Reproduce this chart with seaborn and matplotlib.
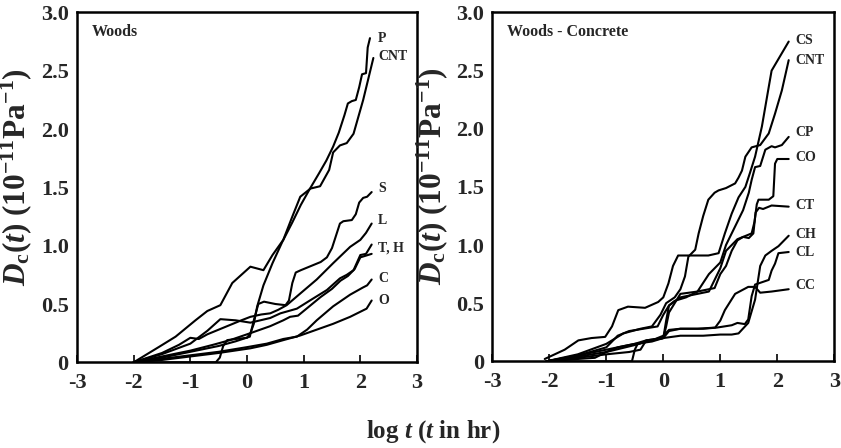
import matplotlib
matplotlib.use("Agg")
import matplotlib.pyplot as plt
import seaborn as sns
import pandas as pd

# ---------------- data (log t, Dc) ----------------
# Woods panel
P_x = [-2.0, -1.0, -0.55, -0.48, -0.42, -0.35, -0.2, 0.0, 0.06, 0.12, 0.18, 0.29, 0.45, 0.62, 0.8, 0.95, 1.1, 1.27, 1.4, 1.52, 1.62, 1.72, 1.78, 1.85, 1.92, 1.98, 2.03, 2.1, 2.13, 2.17]
P_y = [0, 0, 0, 0.04, 0.14, 0.19, 0.2, 0.21, 0.25, 0.33, 0.48, 0.66, 0.85, 1.03, 1.2, 1.35, 1.48, 1.62, 1.73, 1.85, 1.97, 2.12, 2.22, 2.24, 2.25, 2.36, 2.47, 2.48, 2.7, 2.78]
CNT_x = [-2.0, -1.56, -1.26, -0.91, -0.7, -0.47, -0.26, 0.06, 0.29, 0.45, 0.64, 0.8, 0.94, 1.12, 1.29, 1.45, 1.52, 1.64, 1.76, 1.88, 2.05, 2.23]
CNT_y = [0, 0.13, 0.22, 0.36, 0.44, 0.49, 0.68, 0.82, 0.79, 0.92, 1.05, 1.25, 1.42, 1.49, 1.51, 1.65, 1.8, 1.86, 1.88, 1.96, 2.25, 2.61]
S_x = [-2.0, -1.5, -1.0, -0.5, -0.2, 0.05, 0.12, 0.2, 0.3, 0.5, 0.68, 0.74, 0.8, 0.86, 0.95, 1.1, 1.3, 1.41, 1.5, 1.58, 1.64, 1.7, 1.85, 1.92, 1.98, 2.05, 2.12, 2.2]
S_y = [0, 0.04, 0.09, 0.14, 0.18, 0.22, 0.36, 0.5, 0.52, 0.5, 0.49, 0.53, 0.68, 0.77, 0.79, 0.82, 0.86, 0.9, 0.98, 1.1, 1.19, 1.21, 1.22, 1.27, 1.37, 1.41, 1.42, 1.46]
L_x = [-2.0, -1.5, -1.2, -1.0, -0.85, -0.7, -0.4, -0.1, 0.06, 0.25, 0.41, 0.55, 0.7, 0.94, 1.23, 1.52, 1.82, 2.0, 2.1, 2.2]
L_y = [0, 0.08, 0.15, 0.21, 0.2, 0.24, 0.3, 0.36, 0.39, 0.41, 0.42, 0.45, 0.49, 0.59, 0.71, 0.85, 0.99, 1.05, 1.11, 1.19]
T_x = [-2.0, -1.5, -1.0, -0.7, -0.47, -0.2, 0.06, 0.41, 0.59, 0.88, 1.11, 1.41, 1.64, 1.76, 1.88, 2.0, 2.1, 2.15, 2.2]
T_y = [0, 0.07, 0.16, 0.27, 0.37, 0.36, 0.34, 0.38, 0.42, 0.46, 0.53, 0.62, 0.72, 0.75, 0.79, 0.92, 0.93, 0.97, 1.01]
H_x = [-2.0, -1.5, -1.0, -0.6, -0.3, 0.06, 0.41, 0.64, 0.76, 0.9, 1.1, 1.3, 1.5, 1.65, 1.78, 1.9, 2.0, 2.2]
H_y = [0, 0.05, 0.1, 0.15, 0.19, 0.25, 0.31, 0.36, 0.39, 0.4, 0.48, 0.56, 0.63, 0.7, 0.74, 0.8, 0.9, 0.93]
C_x = [-2.0, -1.5, -1.0, -0.5, 0.0, 0.35, 0.64, 0.88, 1.06, 1.23, 1.52, 1.82, 2.04, 2.12, 2.2]
C_y = [0, 0.03, 0.06, 0.09, 0.13, 0.16, 0.2, 0.22, 0.28, 0.36, 0.48, 0.58, 0.64, 0.66, 0.71]
O_x = [-2.0, -1.5, -1.0, -0.5, 0.06, 0.35, 0.64, 0.94, 1.23, 1.52, 1.82, 2.11, 2.2]
O_y = [0, 0.02, 0.05, 0.08, 0.12, 0.15, 0.19, 0.23, 0.28, 0.33, 0.39, 0.46, 0.53]

# Woods - Concrete panel
CS_x = [-2.08, -1.73, -1.49, -1.26, -1.02, -0.9, -0.79, -0.62, -0.32, -0.09, 0.0, 0.09, 0.17, 0.26, 0.5, 0.79, 0.97, 1.08, 1.2, 1.32, 1.44, 1.52, 1.61, 1.73, 1.85, 1.9, 2.02, 2.2]
CS_y = [0.02, 0.1, 0.18, 0.2, 0.21, 0.3, 0.44, 0.47, 0.46, 0.51, 0.55, 0.67, 0.82, 0.91, 0.91, 0.91, 0.93, 1.1, 1.27, 1.41, 1.5, 1.62, 1.76, 2.02, 2.36, 2.5, 2.6, 2.75]
CNT2_x = [-2.05, -1.5, -1.0, -0.7, -0.4, -0.2, -0.05, 0.05, 0.2, 0.3, 0.38, 0.44, 0.56, 0.62, 0.7, 0.79, 0.9, 0.97, 1.1, 1.26, 1.32, 1.38, 1.44, 1.55, 1.7, 1.85, 1.96, 2.08, 2.2]
CNT2_y = [0, 0.06, 0.15, 0.24, 0.28, 0.3, 0.4, 0.5, 0.55, 0.62, 0.73, 0.9, 0.96, 1.1, 1.25, 1.39, 1.45, 1.47, 1.49, 1.53, 1.58, 1.64, 1.76, 1.84, 1.86, 1.96, 2.13, 2.33, 2.59]
CP_x = [-2.05, -1.5, -1.0, -0.8, -0.6, -0.35, -0.1, 0.0, 0.1, 0.2, 0.4, 0.6, 0.8, 0.9, 1.0, 1.1, 1.2, 1.3, 1.4, 1.5, 1.55, 1.61, 1.7, 1.79, 1.9, 1.96, 2.08, 2.2]
CP_y = [0, 0.05, 0.12, 0.22, 0.26, 0.28, 0.3, 0.4, 0.48, 0.52, 0.55, 0.6, 0.75, 0.8, 0.85, 1.0, 1.1, 1.2, 1.3, 1.45, 1.56, 1.67, 1.68, 1.82, 1.85, 1.84, 1.86, 1.93]
CO_x = [-2.05, -1.5, -1.0, -0.6, -0.55, -0.5, -0.45, -0.2, 0.0, 0.05, 0.1, 0.3, 0.6, 0.8, 0.9, 1.0, 1.1, 1.2, 1.3, 1.45, 1.55, 1.6, 1.64, 1.67, 1.85, 1.93, 1.96, 2.0, 2.2]
CO_y = [0, 0.0, 0.0, 0.0, 0.0, 0.1, 0.15, 0.18, 0.2, 0.35, 0.48, 0.55, 0.58, 0.6, 0.7, 0.8, 0.95, 1.0, 1.05, 1.08, 1.1, 1.2, 1.35, 1.39, 1.39, 1.42, 1.7, 1.74, 1.74]
CT_x = [-2.05, -1.5, -1.0, -0.6, -0.4, -0.3, 0.0, 0.05, 0.1, 0.3, 0.6, 0.9, 1.0, 1.1, 1.2, 1.3, 1.4, 1.5, 1.58, 1.62, 1.68, 1.75, 1.9, 2.2]
CT_y = [0, 0.03, 0.06, 0.08, 0.1, 0.18, 0.2, 0.3, 0.42, 0.58, 0.6, 0.63, 0.75, 0.82, 0.95, 1.04, 1.07, 1.06, 1.1, 1.28, 1.32, 1.31, 1.34, 1.33]
CH_x = [-2.05, -1.5, -1.2, -1.0, -0.8, -0.5, -0.3, 0.0, 0.3, 0.7, 1.0, 1.2, 1.32, 1.49, 1.55, 1.61, 1.7, 1.79, 1.9, 2.02, 2.1, 2.2]
CH_y = [0, 0.02, 0.03, 0.08, 0.12, 0.15, 0.18, 0.2, 0.22, 0.22, 0.23, 0.23, 0.24, 0.33, 0.43, 0.53, 0.82, 0.91, 0.95, 0.99, 1.03, 1.08]
CL_x = [-2.05, -1.5, -1.0, -0.5, -0.2, 0.0, 0.1, 0.3, 0.7, 0.94, 1.2, 1.3, 1.43, 1.49, 1.55, 1.61, 1.73, 1.85, 1.9, 1.96, 2.02, 2.2]
CL_y = [0, 0.05, 0.1, 0.15, 0.17, 0.2, 0.26, 0.28, 0.28, 0.29, 0.31, 0.33, 0.32, 0.36, 0.56, 0.66, 0.68, 0.7, 0.78, 0.84, 0.93, 0.94]
CC_x = [-2.05, -1.5, -1.0, -0.5, -0.2, 0.0, 0.1, 0.3, 0.6, 0.91, 1.0, 1.08, 1.26, 1.49, 1.61, 1.7, 1.9, 2.2]
CC_y = [0, 0.04, 0.08, 0.14, 0.18, 0.22, 0.27, 0.28, 0.28, 0.29, 0.35, 0.44, 0.58, 0.64, 0.64, 0.59, 0.6, 0.62]

left_series = {"P": (P_x, P_y), "CNT": (CNT_x, CNT_y), "S": (S_x, S_y), "L": (L_x, L_y),
               "T": (T_x, T_y), "H": (H_x, H_y), "C": (C_x, C_y), "O": (O_x, O_y)}
right_series = {"CS": (CS_x, CS_y), "CNT": (CNT2_x, CNT2_y), "CP": (CP_x, CP_y), "CO": (CO_x, CO_y),
                "CT": (CT_x, CT_y), "CH": (CH_x, CH_y), "CL": (CL_x, CL_y), "CC": (CC_x, CC_y)}

left_labels = ["P", "CNT", "S", "L", "T, H", "C", "O"]
left_label_y = [2.78, 2.62, 1.49, 1.22, 0.98, 0.72, 0.53]
right_labels = ["CS", "CNT", "CP", "CO", "CT", "CH", "CL", "CC"]
right_label_y = [2.76, 2.59, 1.97, 1.75, 1.34, 1.09, 0.94, 0.65]

x_ticks = [-3, -2, -1, 0, 1, 2, 3]
y_ticks = [0, 0.5, 1.0, 1.5, 2.0, 2.5, 3.0]
y_ticklabels = ["0", "0.5", "1.0", "1.5", "2.0", "2.5", "3.0"]


def to_long(series):
    rows = []
    for name, (xs, ys) in series.items():
        for i, (a, b) in enumerate(zip(xs, ys)):
            rows.append({"series": name, "order": i, "logt": a, "Dc": b})
    return pd.DataFrame(rows)


sns.set_theme(style="ticks")
plt.rcParams["font.family"] = ["Liberation Serif", "DejaVu Serif"]
plt.rcParams["font.weight"] = "bold"
plt.rcParams["mathtext.fontset"] = "custom"
plt.rcParams["mathtext.rm"] = "Liberation Serif:bold"
plt.rcParams["mathtext.bf"] = "Liberation Serif:bold"
plt.rcParams["mathtext.it"] = "Liberation Serif:bold:italic"

W, H = 841, 448
fig = plt.figure(figsize=(W / 100, H / 100), dpi=100)
ax_l = fig.add_axes([77 / W, (H - 362.3) / H, (417 - 77) / W, (362.3 - 12.5) / H])
ax_r = fig.add_axes([492.3 / W, (H - 361.3) / H, (834.3 - 492.3) / W, (361.3 - 12.5) / H])

ylabel = r"$D_{\mathrm{c}}(t)$ $(10^{-11}\mathrm{Pa}^{-1})$"

for ax, series, labels, label_y, title, lx in [
    (ax_l, left_series, left_labels, left_label_y, "Woods", 2.31),
    (ax_r, right_series, right_labels, right_label_y, "Woods - Concrete", 2.32),
]:
    df = to_long(series)
    sns.lineplot(data=df, x="logt", y="Dc", units="series", estimator=None, sort=False,
                 color="black", linewidth=1.5, ax=ax, legend=False)
    for ln in ax.get_lines():
        ln.set_solid_joinstyle("round")
        ln.set_solid_capstyle("round")
    ax.set_xlim(-3, 3)
    ax.set_ylim(0, 3)
    ax.set_xticks(x_ticks)
    ax.set_xticklabels([str(t) for t in x_ticks])
    ax.set_yticks(y_ticks)
    ax.set_yticklabels(y_ticklabels)
    ax.tick_params(axis="x", direction="in", length=5, width=1.4, pad=8, labelsize=16)
    ax.tick_params(axis="y", length=0, pad=6, labelsize=16)
    for lab in ax.get_xticklabels() + ax.get_yticklabels():
        lab.set_fontweight("bold")
    for sp in ax.spines.values():
        sp.set_visible(True)
        sp.set_linewidth(1.8)
        sp.set_color("black")
    ax.set_xlabel("")
    ax.set_ylabel(ylabel, fontsize=22.5)
    ax.yaxis.set_label_coords(-0.125, 0.53)
    ax.text(0.043, 0.944, title, transform=ax.transAxes, fontsize=11.5, fontweight="bold",
            ha="left", va="center")
    for lab, yv in zip(labels, label_y):
        ax.text(lx, yv, lab, fontsize=10, fontweight="bold", ha="left", va="center")

fig.text(0.515, 0.036, r"log $t$ ($t$ in hr)", ha="center", va="center", fontsize=18,
         fontweight="bold")

fig.savefig("out.png", dpi=100)
